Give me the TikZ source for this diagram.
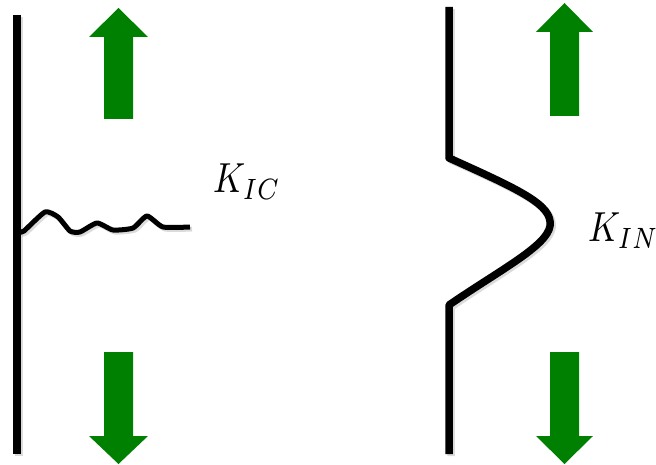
\documentclass[tikz,border=0pt]{standalone}
\usepackage{amsmath}
\definecolor{arrowgreen}{RGB}{0,128,0}
\begin{document}
\begin{tikzpicture}[x=1pt,y=-1pt,
  wall/.style={line width=7.5pt, line cap=butt},
  crackline/.style={line width=5pt, line join=round, line cap=butt},
  shade/.style={draw=black!40, opacity=0.35},
  bigarrow/.style={fill=arrowgreen, draw=none},
  klabel/.style={inner sep=0pt, anchor=base west}
]
\useasboundingbox (0,0) rectangle (656,465);
\def\crackpts{(20,232) (24,231) (45,212) (58,217) (70,231) (80,232) (97,223) (113,230) (133,228) (147,216) (163,227) (190,227)}
% shadows
\begin{scope}[shift={(2,2)}]
  \draw[wall, shade] (17,15) -- (17,454);
  \draw[crackline, shade] plot[smooth, tension=0.35] coordinates {\crackpts};
  \draw[wall, shade, line join=round] (449,7) -- (449,158) .. controls (520,190) and (553,205) .. (550,226) .. controls (547,246) and (500,270) .. (449,305) -- (449,454);
\end{scope}
% left specimen
\draw[wall] (17,15) -- (17,454);
\draw[crackline] plot[smooth, tension=0.35] coordinates {\crackpts};
% right specimen
\draw[wall, line join=round] (449,7) -- (449,158) .. controls (520,190) and (553,205) .. (550,226) .. controls (547,246) and (500,270) .. (449,305) -- (449,454);
% arrows left
\fill[bigarrow] (104,119) -- (104,37) -- (89,37) -- (118.5,8) -- (148,37) -- (133,37) -- (133,119) -- cycle;
\fill[bigarrow] (104,352) -- (104,436) -- (89,436) -- (118.5,464) -- (148,436) -- (133,436) -- (133,352) -- cycle;
% arrows right
\fill[bigarrow] (550,116) -- (550,32) -- (536,32) -- (564.5,3) -- (593,32) -- (579,32) -- (579,116) -- cycle;
\fill[bigarrow] (550,352) -- (550,436) -- (536,436) -- (564.5,464) -- (593,436) -- (579,436) -- (579,352) -- cycle;
% labels
\node[klabel] (kic) at (213,193) {\scalebox{3.5}[4.2]{$K_{IC}$}};
\node[klabel] (kin) at (588,242) {\scalebox{3.5}[4.2]{$K_{IN}$}};
\end{tikzpicture}
\end{document}
